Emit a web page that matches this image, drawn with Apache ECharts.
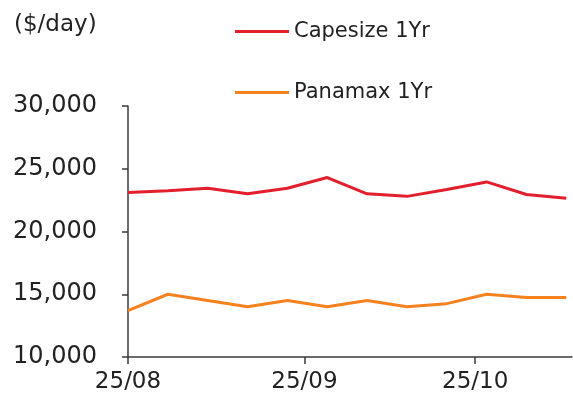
<!DOCTYPE html>
<html>
<head>
<meta charset="utf-8">
<script src="https://cdn.jsdelivr.net/npm/echarts@6/dist/echarts.min.js"></script>
<style>
  html, body { margin: 0; padding: 0; background: #fff; }
  #chart { width: 573px; height: 401px; }
</style>
</head>
<body>
<div id="chart"></div>
<script>
  // weekly dates
  let dates = ['2025-08-01', '2025-08-08', '2025-08-15', '2025-08-22', '2025-08-29', '2025-09-05',
    '2025-09-12', '2025-09-19', '2025-09-26', '2025-10-03', '2025-10-10', '2025-10-17']
  let capesize = [23100, 23250, 23450, 23000, 23450, 24300, 23000, 22800, 23350, 23950, 22950, 22650]
  let panamax = [13700, 15000, 14500, 14000, 14500, 14000, 14500, 14000, 14250, 15000, 14750, 14750]
  let monthTicks = ['2025-08-01', '2025-09-01', '2025-10-01']
  let yTicks = [10000, 15000, 20000, 25000, 30000]

  let font = 'DejaVu Sans'
  let axisColor = '#3a3a3a'

  function ts(s) {
    let p = s.split('-')
    return new Date(+p[0], +p[1] - 1, +p[2]).getTime()
  }

  function pairs(vals) {
    return vals.map((v, i) => [ts(dates[i]), v])
  }

  let chart = echarts.init(document.getElementById('chart'))
  chart.setOption({
    animation: false,
    title: {
      text: '($/day)',
      left: 9,
      top: 9,
      textStyle: { fontFamily: font, fontSize: 23, fontWeight: 'normal', color: '#222' }
    },
    legend: {
      orient: 'vertical',
      left: 230,
      top: 16,
      itemGap: 40,
      itemWidth: 54,
      itemHeight: 3,
      icon: 'rect',
      textStyle: { fontFamily: font, fontSize: 21, color: '#222' },
      data: ['Capesize 1Yr', 'Panamax 1Yr']
    },
    grid: {
      left: 128,
      right: 1,
      top: 106,
      bottom: 44
    },
    xAxis: {
      type: 'value',
      min: ts('2025-08-01'),
      max: ts('2025-10-18'),
      axisLine: { lineStyle: { color: axisColor, width: 1.5 } },
      axisTick: {
        show: true,
        length: 7,
        customValues: monthTicks.map(ts),
        lineStyle: { color: axisColor, width: 1.5 }
      },
      axisLabel: {
        customValues: monthTicks.map(ts),
        margin: 14,
        fontFamily: font,
        fontSize: 23,
        color: '#222',
        formatter: function (v) {
          let d = new Date(v)
          let yy = String(d.getFullYear()).slice(2)
          let mm = String(d.getMonth() + 1).padStart(2, '0')
          return yy + '/' + mm
        }
      },
      splitLine: { show: false }
    },
    yAxis: {
      type: 'value',
      min: yTicks[0],
      max: yTicks[yTicks.length - 1],
      interval: 5000,
      axisLine: { show: true, lineStyle: { color: axisColor, width: 1.5 } },
      axisTick: { show: true, length: 6, lineStyle: { color: axisColor, width: 1.5 } },
      axisLabel: {
        margin: 31,
        fontFamily: font,
        fontSize: 24,
        color: '#222',
        formatter: function (v) {
          return v.toLocaleString('en-US')
        }
      },
      splitLine: { show: false }
    },
    series: [
      {
        name: 'Capesize 1Yr',
        type: 'line',
        data: pairs(capesize),
        symbol: 'none',
        color: '#e31e2d',
        lineStyle: { width: 3, color: '#e31e2d' }
      },
      {
        name: 'Panamax 1Yr',
        type: 'line',
        data: pairs(panamax),
        symbol: 'none',
        color: '#f5821f',
        lineStyle: { width: 3, color: '#f5821f' }
      }
    ]
  })
</script>
</body>
</html>
